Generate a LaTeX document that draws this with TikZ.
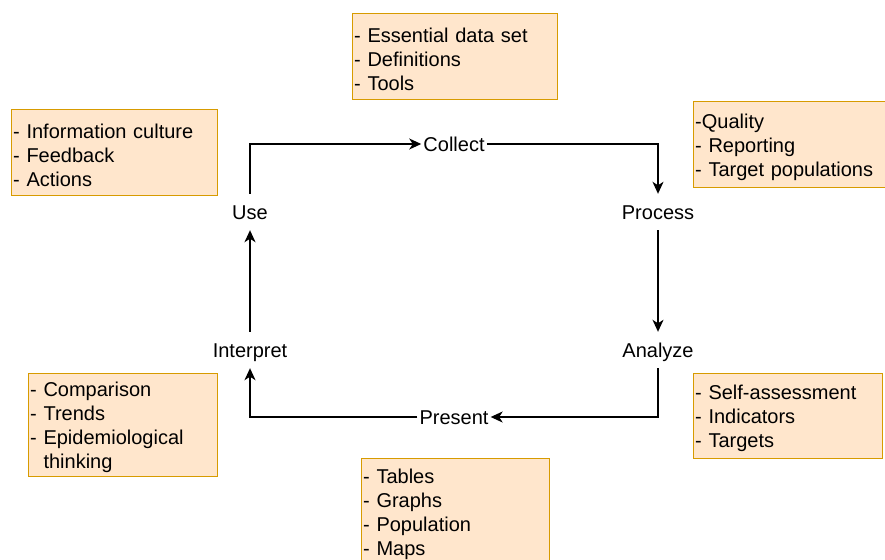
\documentclass[tikz,border=0pt]{standalone}
\usepackage{fontspec}
\setmainfont{Liberation Sans}
\usetikzlibrary{arrows.meta}
\definecolor{boxfill}{HTML}{FFE6CC}
\definecolor{boxline}{HTML}{D79B00}
\newcommand{\topstrut}{\rule{0pt}{19pt}}
\tikzset{
  infobox/.style={draw=boxline, fill=boxfill, line width=1.4pt, align=left,
    inner xsep=1.5pt, inner ysep=0pt, anchor=north west,
    font=\fontsize{20}{24}\selectfont},
  stage/.style={inner xsep=2pt, inner ysep=0pt, text height=15pt, text depth=1pt,
    minimum height=36pt, font=\fontsize{20}{24}\selectfont},
  flow/.style={line width=1.5pt, -{Stealth[length=12pt,width=11pt,inset=3.5pt]}}
}
\begin{document}
\begin{tikzpicture}[x=1pt,y=-1pt]
\useasboundingbox (0,0) rectangle (885,559);
\fill[white] (0,0) rectangle (885,559);
% info boxes
\node[infobox, text width=202pt, minimum height=86pt] (bcol) at (352,13) {\topstrut- Essential data set\\- Definitions\\- Tools};
\node[infobox, text width=203pt, minimum height=86pt] (buse) at (11,109) {\topstrut- Information culture\\- Feedback\\- Actions};
\node[infobox, text width=193pt, minimum height=86pt] (bproc) at (693,101) {\topstrut-Quality\\- Reporting\\- Target populations};
\node[infobox, text width=186pt, minimum height=103pt] (bint) at (28,373) {\topstrut- Comparison\\- Trends\\- Epidemiological\\\ \ thinking};
\node[infobox, text width=185pt, minimum height=106pt] (bpres) at (361,458) {\topstrut- Tables\\- Graphs\\- Population\\- Maps};
\node[infobox, text width=186pt, minimum height=85pt] (bana) at (693,373) {\topstrut- Self-assessment\\- Indicators\\- Targets};
% stages
\node[stage] (collect) at (454,144) {Collect};
\node[stage] (process) at (658,212) {Process};
\node[stage] (analyze) at (658,350) {Analyze};
\node[stage] (present) at (454,417) {Present};
\node[stage] (interpret) at (250,350) {Interpret};
\node[stage] (use) at (250,212) {Use};
% connectors
\draw[flow] (use.north) |- (collect.west);
\draw[flow] (collect.east) -| (process.north);
\draw[flow] (process.south) -- (analyze.north);
\draw[flow] (analyze.south) |- (present.east);
\draw[flow] (present.west) -| (interpret.south);
\draw[flow] (interpret.north) -- (use.south);
\end{tikzpicture}
\end{document}
